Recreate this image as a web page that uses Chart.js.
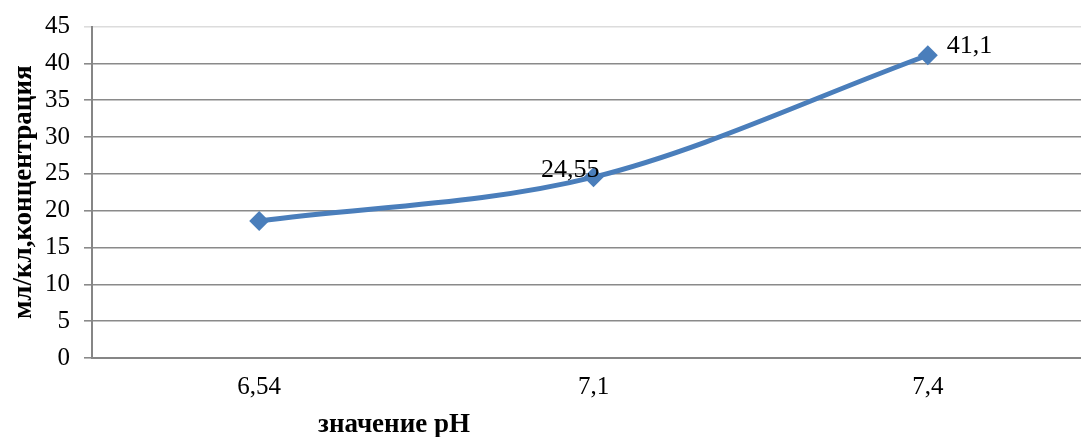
<!DOCTYPE html>
<html>
<head>
<meta charset="utf-8">
<script src="https://cdn.jsdelivr.net/npm/chart.js@4/dist/chart.umd.min.js"></script>
<style>
  html, body { margin: 0; padding: 0; background: #fff; overflow: hidden; }
  #wrap { width: 1105px; height: 437px; }
</style>
</head>
<body>
<div id="wrap"><canvas id="c" width="1105" height="437"></canvas></div>
<script>
// pH values along the x axis and the measured concentration at each
const phLabels = ['6,54', '7,1', '7,4'];
const concentration = [18.6, 24.55, 41.1];
// which points carry a value label, and on which side of the marker
const labelSide = [null, 'left', 'right'];

const yTitle = 'мл/кл,концентрация';
const xTitle = 'значение pH';

const serif = '"Liberation Serif", "Times New Roman", serif';

function fmt(v) { return String(v).replace('.', ','); }

// value labels next to the markers, and the x axis caption
const annotate = {
  id: 'annotate',
  afterDatasetsDraw(chart) {
    const ctx = chart.ctx;
    const meta = chart.getDatasetMeta(0);
    ctx.save();
    ctx.fillStyle = '#000';
    ctx.font = '26px ' + serif;
    ctx.textBaseline = 'middle';
    meta.data.forEach((pt, i) => {
      const side = labelSide[i];
      if (!side) return;
      const text = fmt(concentration[i]);
      if (side === 'left') {
        ctx.textAlign = 'right';
        ctx.fillText(text, pt.x + 6, pt.y - 7);
      } else {
        ctx.textAlign = 'left';
        ctx.fillText(text, pt.x + 19, pt.y - 9);
      }
    });
    ctx.font = 'bold 27px ' + serif;
    ctx.textAlign = 'center';
    ctx.fillText(xTitle, 394, 425);
    ctx.restore();
  }
};

new Chart(document.getElementById('c'), {
  type: 'line',
  data: {
    labels: phLabels,
    datasets: [{
      data: concentration,
      borderColor: '#4a7ebb',
      backgroundColor: '#4a7ebb',
      borderWidth: 5,
      cubicInterpolationMode: 'monotone',
      pointStyle: 'rectRot',
      pointRadius: 10,
      pointHoverRadius: 10,
      pointBorderWidth: 0
    }]
  },
  options: {
    responsive: false,
    animation: false,
    devicePixelRatio: 1,
    layout: { padding: { left: 0, top: 20, right: 3, bottom: 0 } },
    plugins: { legend: { display: false }, tooltip: { enabled: false } },
    scales: {
      x: {
        offset: true,
        grid: { display: false, drawTicks: false },
        border: { color: '#868686', width: 2 },
        ticks: { color: '#000', font: { family: serif, size: 25 }, padding: 14 },
        afterFit(s) { s.height = 79; }
      },
      y: {
        min: 0, max: 45,
        ticks: { stepSize: 5, color: '#000', font: { family: serif, size: 25, lineHeight: 1 }, padding: 14 },
        grid: {
          color: (c) => c.tick && c.tick.value === 45 ? '#dcdcdc' : '#8a8a8a',
          lineWidth: 1.6,
          tickLength: 8
        },
        border: { color: '#868686', width: 2 },
        title: {
          display: true, text: yTitle, color: '#000',
          font: { family: serif, size: 27, weight: 'bold' },
          padding: { top: 8, bottom: 0 }
        },
        afterFit(s) { s.width = 92; }
      }
    }
  },
  plugins: [annotate]
});
</script>
</body>
</html>
